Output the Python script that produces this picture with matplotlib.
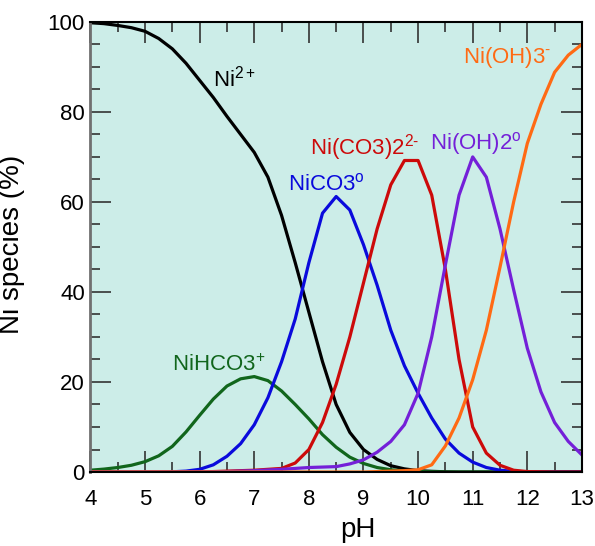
import numpy as np
import matplotlib
matplotlib.use('Agg')
import matplotlib.pyplot as plt
from matplotlib.ticker import MultipleLocator

#speciation of Ni (%) vs pH at 0.25 pH steps
ph = np.arange(4.0, 13.01, 0.25)

ni = [99.8, 99.6, 99.2, 98.7, 97.9, 96.3, 94, 90.8, 87, 83.2, 79, 75, 71,
      65.5, 57, 46.5, 35.5, 24.5, 15, 8.8, 5, 2.8, 1.4, 0.7, 0.3, 0.15, 0.05,
      0, 0, 0, 0, 0, 0, 0, 0, 0, 0]
nihco3 = [0.4, 0.65, 1.0, 1.5, 2.3, 3.6, 5.7, 8.9, 12.6, 16.2, 19.1, 20.7,
          21.2, 20.3, 18, 15, 11.8, 8.3, 5.5, 3.3, 1.9, 1.0, 0.5, 0.25, 0.1,
          0.05, 0, 0, 0, 0, 0, 0, 0, 0, 0, 0, 0]
nico3 = [0, 0, 0, 0, 0, 0, 0.05, 0.2, 0.6, 1.6, 3.5, 6.3, 10.5, 16.5, 24.5, 34,
         46.5, 57.5, 61.2, 58.2, 50.5, 41.5, 31.5, 23.6, 17.5, 12, 7.3, 4.2,
         2.2, 1.0, 0.4, 0.15, 0.05, 0, 0, 0, 0]
nico32 = [0, 0, 0, 0, 0, 0, 0, 0, 0, 0.1, 0.2, 0.3, 0.4, 0.6, 0.8, 2, 5, 11,
          19.5, 30, 42, 54, 63.8, 69.2, 69.2, 61.5, 45, 25, 10, 4.2, 1.5, 0.4,
          0.1, 0.05, 0, 0, 0]
nioh2 = [0, 0, 0, 0, 0, 0, 0, 0, 0, 0.05, 0.1, 0.2, 0.3, 0.45, 0.6, 0.8, 1.0,
         1.1, 1.2, 1.8, 2.7, 4.4, 6.8, 10.5, 17.5, 30, 46, 61.5, 70, 65.5, 54,
         40.5, 27.5, 17.8, 11, 6.8, 3.8]
nioh3 = [0, 0, 0, 0, 0, 0, 0, 0, 0, 0, 0, 0, 0, 0, 0, 0, 0, 0, 0, 0, 0, 0.1,
         0.2, 0.3, 0.5, 1.6, 5.8, 12, 20.5, 31.5, 45.5, 60, 73, 81.7, 88.8,
         92.6, 95]

plt.rcParams['font.family'] = ['Liberation Sans', 'DejaVu Sans']
plt.rcParams['mathtext.fontset'] = 'custom'
plt.rcParams['mathtext.rm'] = 'Liberation Sans'
plt.rcParams['mathtext.it'] = 'Liberation Sans'

fig = plt.figure(figsize=(5.95, 5.46), dpi=100)
ax = fig.add_axes([0.152, 0.1355, 0.826, 0.8245])
ax.set_facecolor('#ccede8')

lw = 2.3
ax.plot(ph, ni, color='black', lw=lw)
ax.plot(ph, nihco3, color='#11661c', lw=lw)
ax.plot(ph, nico3, color='#0a0adc', lw=lw)
ax.plot(ph, nico32, color='#cc0a0a', lw=lw)
ax.plot(ph, nioh2, color='#7420d8', lw=lw)
ax.plot(ph, nioh3, color='#ff6a14', lw=lw)

#species labels
fs = 16
ax.text(6.24, 87.5, r'Ni$^{\mathrm{2+}}$', color='black', fontsize=fs, va='center')
ax.text(5.49, 23.8, r'NiHCO3$^{\mathrm{+}}$', color='#11661c', fontsize=fs, va='center')
ax.text(7.62, 64, r'NiCO3$^{\mathrm{o}}$', color='#0a0adc', fontsize=fs, va='center')
ax.text(8.02, 72, 'Ni(CO3)2$^{\\mathrm{2\u2010}}$', color='#cc0a0a', fontsize=fs, va='center')
ax.text(10.21, 73, r'Ni(OH)2$^{\mathrm{o}}$', color='#7420d8', fontsize=fs, va='center')
ax.text(10.82, 92, 'Ni(OH)3$^{\\mathrm{\u2010}}$', color='#ff6a14', fontsize=fs, va='center')

ax.set_xlim(4, 13)
ax.set_ylim(0, 100)
ax.xaxis.set_major_locator(MultipleLocator(1))
ax.xaxis.set_minor_locator(MultipleLocator(0.5))
ax.yaxis.set_major_locator(MultipleLocator(20))
ax.yaxis.set_minor_locator(MultipleLocator(5))
ax.tick_params(which='both', direction='in', top=True, right=True, color='#333333')
ax.tick_params(which='major', length=15, width=1.2, labelsize=16)
ax.tick_params(which='minor', length=7, width=1.2)
ax.tick_params(axis='x', which='major', pad=12)
ax.tick_params(axis='y', which='major', pad=4)

for s in ['top', 'right', 'bottom']:
    ax.spines[s].set_linewidth(1.5)
ax.spines['left'].set_linewidth(2)
ax.spines['left'].set_color('#707070')

ax.set_xlabel('pH', fontsize=20)
ax.set_ylabel('Ni species (%)', fontsize=20)
ax.xaxis.set_label_coords(0.544, -0.1)
ax.yaxis.set_label_coords(-0.133, 0.506)

plt.savefig('out.png', dpi=100)
